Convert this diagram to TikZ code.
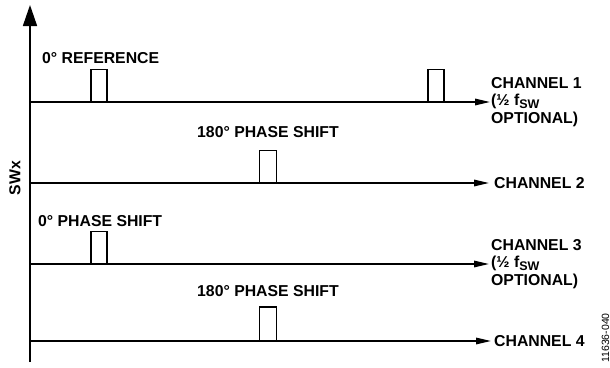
\documentclass[tikz,border=0pt]{standalone}
\usepackage{fontspec}
\setmainfont{Liberation Sans}
\usetikzlibrary{arrows.meta}
\tikzset{
  sig/.style={line width=1.6pt,-{Triangle[length=15pt,width=6.5pt]}},
  pulse/.style={line width=1.8pt},
  lbl/.style={font=\fontsize{15.8}{17.5}\selectfont\bfseries,inner sep=0pt},
}
\newcommand{\fsw}{f\raisebox{-3pt}{\fontsize{12.5}{12.5}\selectfont SW}}

\begin{document}
\begin{tikzpicture}[x=1pt,y=-1pt]
\useasboundingbox (0,0) rectangle (610,367);

% axis
\coordinate (ybot) at (30,362);
\coordinate (ytop) at (30,5);
\draw[line width=1.6pt,-{Triangle[length=21pt,width=14pt]}] (ybot) -- (ytop);
\node[lbl,rotate=90] (swx) at (15,178) {SWx};

% channel 1
\coordinate (c1s) at (30,102);
\coordinate (c1e) at (490,102);
\draw[sig] (c1s) -- (c1e);
\draw[pulse] (91,102) -- (91,69.5) -- (107,69.5) -- (107,102);
\draw[pulse] (428,102) -- (428,69.5) -- (444,69.5) -- (444,102);
\node[lbl,anchor=west] (ref) at (42,58) {0° REFERENCE};
\node[lbl,anchor=west,align=left] (ch1) at ([xshift=1pt]c1e) {CHANNEL 1\\(½ \fsw\\OPTIONAL)};

% channel 2
\coordinate (c2s) at (30,183);
\coordinate (c2e) at (489,183);
\draw[sig] (c2s) -- (c2e);
\draw[pulse] (259.5,183) -- (259.5,150.5) -- (276.5,150.5) -- (276.5,183);
\node[lbl,anchor=west] (ps2) at (197,132) {180° PHASE SHIFT};
\node[lbl,anchor=west] (ch2) at ([xshift=5pt]c2e) {CHANNEL 2};

% channel 3
\coordinate (c3s) at (30,264);
\coordinate (c3e) at (489,264);
\draw[sig] (c3s) -- (c3e);
\draw[pulse] (91,264) -- (91,231.5) -- (107,231.5) -- (107,264);
\node[lbl,anchor=west] (ps3) at (38,221) {0° PHASE SHIFT};
\node[lbl,anchor=west,align=left] (ch3) at ([xshift=2pt]c3e) {CHANNEL 3\\(½ \fsw\\OPTIONAL)};

% channel 4
\coordinate (c4s) at (30,341);
\coordinate (c4e) at (491,341);
\draw[sig] (c4s) -- (c4e);
\draw[pulse] (259.5,341) -- (259.5,307) -- (276.5,307) -- (276.5,341);
\node[lbl,anchor=west] (ps4) at (197,291) {180° PHASE SHIFT};
\node[lbl,anchor=west] (ch4) at ([xshift=3pt]c4e) {CHANNEL 4};

\node[rotate=90,font=\fontsize{10.5}{12}\selectfont,inner sep=0pt] (fig) at (605.5,338) {11636-040};
\end{tikzpicture}
\end{document}
